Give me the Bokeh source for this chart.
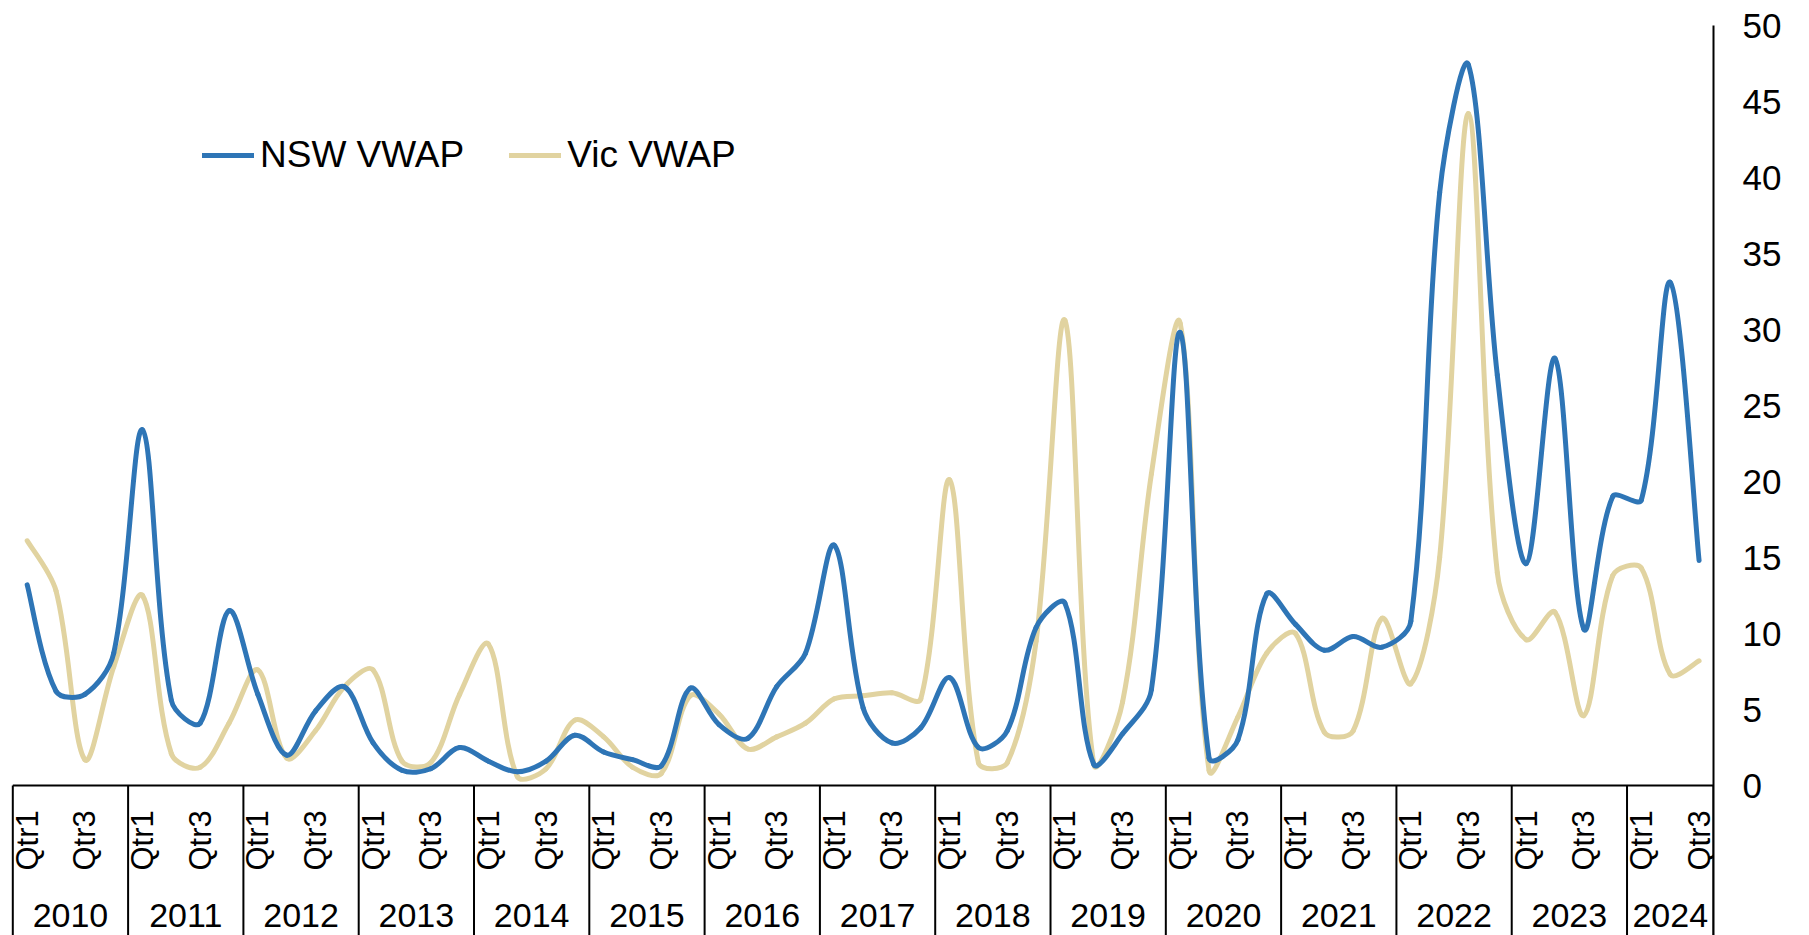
import numpy as np
from bokeh.plotting import figure
from bokeh.models import Range1d, FixedTicker, Legend, LegendItem, ColumnDataSource
from bokeh.embed import file_html
from bokeh.resources import INLINE
from bokeh.core.properties import value

# ---- data (quarterly, 2010 Q1 .. 2024 Q3) ----
years = [str(y) for y in range(2010, 2025)]
quarter_names = ["Qtr1", "Qtr2", "Qtr3", "Qtr4"]
labelled_quarters = ["Qtr1", "Qtr3"]

nsw_vwap = [
    13.2, 6.2, 6.0, 8.7,      # 2010
    23.4, 5.6, 4.1, 11.5,     # 2011
    6.0, 2.0, 4.9, 6.5,       # 2012
    2.8, 1.0, 1.1, 2.5,       # 2013
    1.6, 0.9, 1.6, 3.3,       # 2014
    2.2, 1.7, 1.3, 6.4,       # 2015
    4.0, 3.1, 6.5, 8.7,       # 2016
    15.8, 5.1, 2.8, 3.8,      # 2017
    7.1, 2.5, 3.6, 10.4,      # 2018
    12.0, 1.4, 3.4, 6.3,      # 2019
    29.8, 1.8, 3.0, 12.6,     # 2020
    10.6, 8.9, 9.8, 9.1,      # 2021
    10.8, 39.0, 47.4, 27.0,   # 2022
    14.6, 28.1, 10.3, 19.0,   # 2023
    18.8, 33.1, 14.8,         # 2024
]
vic_vwap = [
    16.1, 12.8, 1.7, 7.8,     # 2010
    12.5, 2.1, 1.2, 4.1,      # 2011
    7.6, 1.8, 3.6, 6.5,       # 2012
    7.6, 1.6, 1.5, 6.0,       # 2013
    9.3, 0.6, 1.1, 4.3,       # 2014
    3.2, 1.2, 0.8, 5.9,       # 2015
    4.7, 2.4, 3.2, 4.1,       # 2016
    5.7, 5.9, 6.1, 5.7,       # 2017
    20.1, 1.5, 1.5, 9.5,      # 2018
    30.6, 1.4, 5.5, 20.5,     # 2019
    30.4, 1.0, 4.5, 8.7,      # 2020
    10.0, 3.5, 3.6, 11.0,     # 2021
    6.7, 15.0, 44.2, 14.0,    # 2022
    9.6, 11.4, 4.6, 13.8,     # 2023
    14.3, 7.3, 8.2,           # 2024
]
y_ticks = [0, 5, 10, 15, 20, 25, 30, 35, 40, 45, 50]

NSW_COLOR = "#2E75B6"
VIC_COLOR = "#E1D3A0"
FONT = "Liberation Sans"

n = len(nsw_vwap)
idx = np.arange(n, dtype=float)

# ---- layout in pixels ----
FRAME_W, FRAME_H = 1713, 935
LEFT_PAD = 12.3             # gap left of the first category box
Y_TOP_PX, Y_ZERO_PX = 25, 785
px_per_unit = (Y_ZERO_PX - Y_TOP_PX) / 50.0
q_w = (FRAME_W - LEFT_PAD) / n

x_start = -0.5 - LEFT_PAD / q_w
x_end = n - 0.5
y_start = -(FRAME_H - Y_ZERO_PX) / px_per_unit
y_end = 50 + Y_TOP_PX / px_per_unit

p = figure(frame_width=FRAME_W, frame_height=FRAME_H,
           x_range=Range1d(x_start, x_end), y_range=Range1d(y_start, y_end),
           x_axis_location=None, y_axis_location="right",
           output_backend="svg", toolbar_location=None,
           min_border=0, background_fill_color="white",
           border_fill_color="white")
p.outline_line_color = None
p.xgrid.visible = False
p.ygrid.visible = False

yax = p.yaxis[0]
yax.ticker = FixedTicker(ticks=y_ticks)
yax.bounds = (y_start, 50)
yax.axis_line_color = "black"
yax.axis_line_width = 2
yax.major_tick_out = 0
yax.major_tick_in = 0
yax.minor_tick_out = 0
yax.minor_tick_in = 0
yax.major_label_standoff = 29
yax.major_label_text_font = FONT
yax.major_label_text_font_size = "35px"
yax.major_label_text_color = "black"


def smooth_segments(vals):
    """Cubic Bezier pieces through every point; tangent lengths are split
    by the screen-space lengths of the neighbouring chords to limit overshoot."""
    X = idx * q_w
    Y = np.asarray(vals, dtype=float) * px_per_unit
    m = len(X)
    prev_i = np.clip(np.arange(m) - 1, 0, m - 1)
    next_i = np.clip(np.arange(m) + 1, 0, m - 1)
    a = np.hypot(X - X[prev_i], Y - Y[prev_i])
    b = np.hypot(X[next_i] - X, Y[next_i] - Y)
    dx = X[next_i] - X[prev_i]
    dy = Y[next_i] - Y[prev_i]
    tot = np.where(a + b > 0, a + b, 1.0)
    w_out = np.where((a > 0) & (b > 0), b / tot / 3.0, 1 / 6.0)
    w_in = np.where((a > 0) & (b > 0), a / tot / 3.0, 1 / 6.0)
    ox, oy = X + dx * w_out, Y + dy * w_out
    ix, iy = X - dx * w_in, Y - dy * w_in
    return ColumnDataSource(dict(
        x0=X[:-1] / q_w, y0=Y[:-1] / px_per_unit,
        x1=X[1:] / q_w, y1=Y[1:] / px_per_unit,
        cx0=ox[:-1] / q_w, cy0=oy[:-1] / px_per_unit,
        cx1=ix[1:] / q_w, cy1=iy[1:] / px_per_unit,
    ))


r_vic = p.bezier(x0="x0", y0="y0", x1="x1", y1="y1", cx0="cx0", cy0="cy0",
                 cx1="cx1", cy1="cy1", source=smooth_segments(vic_vwap),
                 line_color=VIC_COLOR, line_width=5, line_cap="round")
r_nsw = p.bezier(x0="x0", y0="y0", x1="x1", y1="y1", cx0="cx0", cy0="cy0",
                 cx1="cx1", cy1="cy1", source=smooth_segments(nsw_vwap),
                 line_color=NSW_COLOR, line_width=5, line_cap="round")

# ---- two-level category axis (quarters inside year boxes) ----
year_of = [years[i // 4] for i in range(n)]
quarter_of = [quarter_names[i % 4] for i in range(n)]

bounds_x = [-0.5] + [i - 0.5 for i in range(1, n) if year_of[i] != year_of[i - 1]] + [n - 0.5]
p.segment(x0=[bounds_x[0]], y0=[0], x1=[bounds_x[-1]], y1=[0],
          line_color="black", line_width=2)
p.segment(x0=bounds_x, y0=[0] * len(bounds_x), x1=bounds_x,
          y1=[y_start] * len(bounds_x), line_color="black", line_width=2)

q_idx = [i for i in range(n) if quarter_of[i] in labelled_quarters]
p.text(x=[float(i) for i in q_idx], y=[-85 / px_per_unit] * len(q_idx),
       text=[quarter_of[i] for i in q_idx], angle=np.pi / 2,
       text_align="left", text_baseline="middle",
       text_font=value(FONT), text_font_size=value("31px"), text_color="black")

year_centres = [float(np.mean([i for i in range(n) if year_of[i] == yr])) for yr in years]
p.text(x=year_centres, y=[-130 / px_per_unit] * len(years), text=years,
       text_align="center", text_baseline="middle",
       text_font=value(FONT), text_font_size=value("34px"), text_color="black")

# ---- legend ----
legend = Legend(items=[LegendItem(label="NSW VWAP", renderers=[r_nsw]),
                       LegendItem(label="Vic VWAP", renderers=[r_vic])],
                orientation="horizontal", location=(202, 759),
                glyph_width=52, glyph_height=40, label_standoff=6, spacing=45,
                padding=0, margin=0, border_line_alpha=0,
                background_fill_alpha=0,
                label_text_font=FONT, label_text_font_size="37px",
                label_text_color="black")
p.add_layout(legend)

open("out.html", "w").write(file_html(p, INLINE))
